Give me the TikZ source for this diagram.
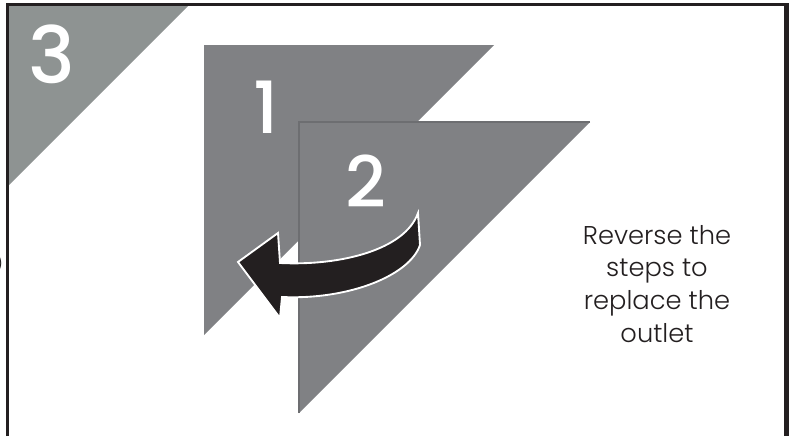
\documentclass[tikz,border=0pt]{standalone}
\usepackage{fontspec}
\setmainfont{Poppins}[UprightFont=* Light]
\newfontfamily\numfont{Poppins}[UprightFont=* Medium]
\definecolor{frameblack}{HTML}{231F20}
\definecolor{cornergray}{HTML}{8E9392}
\definecolor{paneg}{HTML}{808184}
\definecolor{paneedge}{HTML}{6D6E71}
\definecolor{txtgray}{HTML}{231F20}
\tikzset{
  framestroke/.style={draw=frameblack, line width=3pt*0.75},
  pane/.style={fill=paneg},
  bignum/.style={text=white, inner sep=0pt, anchor=base},
  notetext/.style={text=txtgray, align=center, inner sep=0pt, anchor=base,
     font=\fontsize{19.3pt}{24.4pt}\selectfont},
}
\begin{document}
\begin{tikzpicture}[x=0.75pt,y=-0.75pt]
\useasboundingbox (0,0) rectangle (793,436);
\fill[white] (0,0) rectangle (793,436);
% corner triangle
\fill[cornergray] (9,6) -- (188,6) -- (9,185) -- cycle;
\node[bignum, font=\numfont\fontsize{59pt}{59pt}\selectfont] (three) at (52,83) {3};
% pane 1
\fill[pane] (204,45) -- (494,45) -- (204,335) -- cycle;
\node[bignum, font=\numfont\fontsize{54pt}{54pt}\selectfont] (one) at (266,133) {1};
% pane 2
\fill[pane] (299,122) -- (590,122) -- (299,413) -- cycle;
\draw[paneedge, line width=0.9pt] (299,413) -- (299,122) -- (590,122);
\node[bignum, font=\numfont\fontsize{53pt}{53pt}\selectfont] (two) at (366,207) {2};
% arrow
\filldraw[fill=frameblack, draw=white, line width=1.4pt, line join=miter]
  (418,213) .. controls (405,250) and (340,266) .. (280,263)
  -- (278,233) -- (238,262) -- (280,318) -- (282,297)
  .. controls (350,300) and (410,275) .. (420,245) -- cycle;
% text
\node[notetext] (note) at (657,342) {Reverse the\\steps to\\replace the\\outlet};
% clipped glyph at left edge
\node[inner sep=0pt, anchor=east, text=frameblack, font=\fontsize{12pt}{12pt}\selectfont] (frag) at (3,264) {)};
% frame
\draw[framestroke] (7.5,436) -- (7.5,4.5) -- (786,4.5);
\draw[draw=frameblack, line width=5pt*0.75] (786,3) -- (786,436);
\end{tikzpicture}
\end{document}
